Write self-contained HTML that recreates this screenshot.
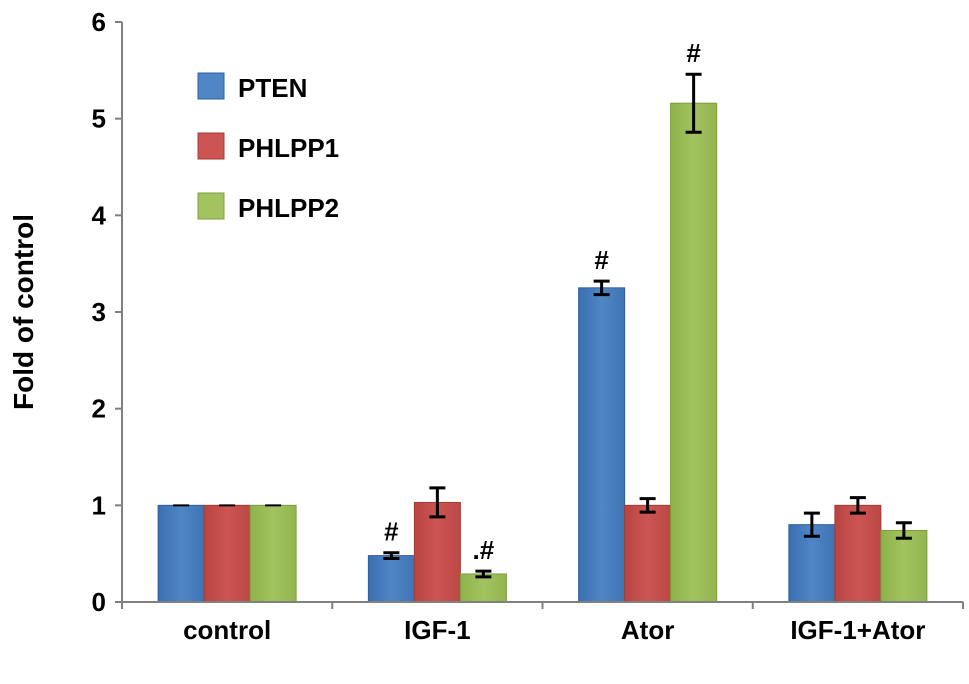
<!DOCTYPE html>
<html><head><meta charset="utf-8"><style>
body{margin:0;background:#fff;}
svg text{font-family:"Liberation Sans",Arial,sans-serif;font-weight:bold;}
</style></head><body>
<svg id="chart" width="969" height="679" xmlns="http://www.w3.org/2000/svg">
<defs>
<linearGradient id="gb" x1="0" x2="1"><stop offset="0" stop-color="#3a6fb0"/><stop offset="0.5" stop-color="#4f86c6"/><stop offset="1" stop-color="#3f74b4"/></linearGradient>
<linearGradient id="gr" x1="0" x2="1"><stop offset="0" stop-color="#b84542"/><stop offset="0.5" stop-color="#cc5553"/><stop offset="1" stop-color="#bb4845"/></linearGradient>
<linearGradient id="gg" x1="0" x2="1"><stop offset="0" stop-color="#8fb24c"/><stop offset="0.5" stop-color="#a2c35f"/><stop offset="1" stop-color="#92b550"/></linearGradient>
</defs>
<g id="plot"></g>
</svg>
<script>
const categories = ["control","IGF-1","Ator","IGF-1+Ator"];
const seriesNames = ["PTEN","PHLPP1","PHLPP2"];
const ptenValues = [1, 0.48, 3.25, 0.8];
const phlpp1Values = [1, 1.03, 1.0, 1.0];
const phlpp2Values = [1, 0.29, 5.16, 0.74];
const ptenErr = [0, 0.03, 0.07, 0.12];
const phlpp1Err = [0, 0.15, 0.07, 0.08];
const phlpp2Err = [0, 0.03, 0.3, 0.08];
const yTicks = [0,1,2,3,4,5,6];
const marks = [["","#","#",""],["","","",""],["",".#","#",""]];

const NS="http://www.w3.org/2000/svg";
const g=document.getElementById('plot');
const x0=122,x1=963,y0=602,yTop=22,yMax=6;
const catW=(x1-x0)/categories.length, barW=46;
const yS=v=>y0-(v/yMax)*(y0-yTop);
const catX=i=>x0+catW*i;
function mk(t,a){const e=document.createElementNS(NS,t);for(const k in a)e.setAttribute(k,a[k]);g.appendChild(e);return e;}
const series=[ptenValues,phlpp1Values,phlpp2Values];
const errs=[ptenErr,phlpp1Err,phlpp2Err];
const fills=["url(#gb)","url(#gr)","url(#gg)"];
const edges=["#2f5f9c","#a33b38","#7d9c3d"];
categories.forEach((c,i)=>{
  const start=catX(i)+catW/2-barW*1.5;
  series.forEach((s,j)=>{
    const bx=start+j*barW;
    const r=mk('rect',{x:bx,y:yS(s[i]),width:barW,height:y0-yS(s[i]),fill:fills[j],stroke:edges[j],'stroke-width':1});
    
    
    const e=errs[j][i];
    const cx=bx+barW/2;
    if(e>0){
      const eg=mk('path',{d:`M${cx},${yS(s[i]+e)}V${yS(s[i]-e)}M${cx-8},${yS(s[i]+e)}H${cx+8}M${cx-8},${yS(s[i]-e)}H${cx+8}`,stroke:'#000','stroke-width':3,fill:'none'});
      
      
    } else {
      mk('path',{d:`M${cx-8},${yS(s[i])}H${cx+8}`,stroke:'#000','stroke-width':2});
    }
    if(marks[j][i]){
      const t=mk('text',{x:cx,y:yS(s[i]+e)-12,'text-anchor':'middle','font-size':26});
      t.textContent=marks[j][i];
      
      
    }
  });
  const lt=mk('text',{x:catX(i)+catW/2,y:639,'text-anchor':'middle','font-size':26});
  lt.textContent=c;
  
  
});
const ax=mk('path',{d:`M${x0},${yTop}V${y0}H${x1}`,stroke:'#808080','stroke-width':2,fill:'none'});


for(let i=0;i<=categories.length;i++){mk('path',{d:`M${catX(i)},${y0}V${y0+7}`,stroke:'#808080','stroke-width':2});}
yTicks.forEach(v=>{
  mk('path',{d:`M${x0-7},${yS(v)}H${x0}`,stroke:'#808080','stroke-width':2});
  const t=mk('text',{x:x0-16,y:yS(v)+9,'text-anchor':'end','font-size':26});
  t.textContent=v;
  
  
});
const yt=mk('text',{x:33,y:312,'text-anchor':'middle','font-size':28,transform:'rotate(-90 33 312)'});
yt.textContent='Fold of control';


const cols=["#4f86c6","#cc5553","#a2c35f"];
seriesNames.forEach((n,j)=>{
  const y=87+j*60;
  const r=mk('rect',{x:198,y:y-14,width:26,height:26,fill:cols[j],stroke:edges[j]});
  
  
  const t=mk('text',{x:238,y:y+10,'font-size':26});
  t.textContent=n;
  
  
});
</script>
</body></html>
